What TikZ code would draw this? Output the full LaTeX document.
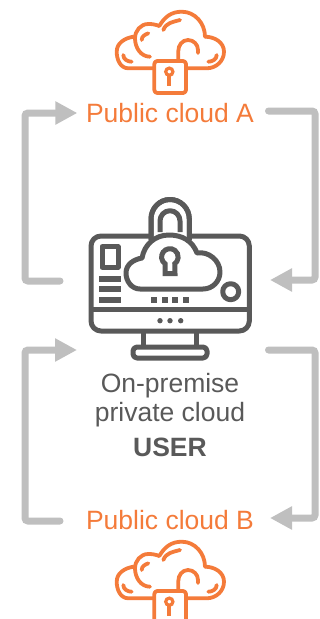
\documentclass[tikz,border=0pt]{standalone}
\usepackage{fontspec}
\setmainfont{Liberation Sans}
\usetikzlibrary{arrows.meta}
\definecolor{orangeC}{HTML}{F47B3A}
\definecolor{grayC}{HTML}{595959}
\definecolor{flowC}{HTML}{BFBFBF}
\tikzset{
  flow/.style={draw=flowC,line width=7pt,line cap=round,rounded corners=3pt,-{Triangle[length=22pt,width=22pt]}},
  orangelabel/.style={text=orangeC,font=\fontsize{26.5}{30}\selectfont,inner xsep=8.5pt,inner ysep=0pt},
  graylabel/.style={text=grayC,font=\fontsize{26.5}{30}\selectfont,inner sep=0pt},
  iconline/.style={draw=orangeC,line width=3.8pt,line cap=round,line join=round},
  pcline/.style={draw=grayC,line width=5pt,line join=round},
  cloudicon/.pic={
    \path[iconline] (152.7,68.3) -- (128.3,68.3) to[out=180,in=-90] (116.7,51.7) to[out=90,in=190] (133.3,36.7);
    \path[iconline] (150,56.7) to[out=180,in=-90] (135,38.3) to[out=90,in=180] (148.3,24) to[out=0,in=160] (159.3,26);
    \path[iconline] (159.3,26) to[out=-20+80,in=180] (181.7,11.7) to[out=0,in=90] (205,36.7);
    \path[iconline] (205,36.7) to[out=0,in=90] (224,51.7) to[out=-90,in=0] (206.7,68.3) -- (188.3,68.3);
    \path[iconline] (178.3,60) -- (178.3,51) to[out=90,in=180] (188,40) to[out=0,in=90] (198,50) -- (198,53);
    \path[iconline,rounded corners=3pt] (154.3,61) rectangle (186,93);
    \path[iconline] (123.3,55) to[out=-90,in=180] (131.7,61.7);
    \path[iconline] (141.7,40) to[out=90,in=200] (148.3,33.3);
    \path[iconline] (163.3,30) to[out=70,in=195] (180,20);
    \path[iconline] (208.3,61.7) to[out=0,in=-90] (216.7,55);
    \path[draw=orangeC,line width=3.2pt] (169.3,71.7) circle (3.6pt);
    \path[iconline,line cap=butt] (169.3,75) -- (169.3,86);
  }
}
\begin{document}
\begin{tikzpicture}[x=1pt,y=-1pt]
\useasboundingbox (0,0) rectangle (320,619);
% clouds
\pic (cloudA) at (0,0) {cloudicon};
\begin{scope}
  \clip (0,0) rectangle (320,619);
  \pic (cloudB) at (0,530) {cloudicon};
\end{scope}
% labels
\node[orangelabel] (pa) at (170,113) {Public cloud A};
\node[orangelabel] (pb) at (170,520) {Public cloud B};
\node[graylabel] (prem) at (170,386) {On-premise};
\node[graylabel] (priv) at (170,414.5) {private cloud};
\node[graylabel,font=\fontsize{26.5}{30}\selectfont\bfseries] (user) at (170,447) {USER};
% monitor
\path[pcline,rounded corners=10pt] (91,236) rectangle (249.3,331);
\path[pcline] (91,309) -- (249.3,309);
\path[pcline] (143.3,331) -- (143.3,347);
\path[pcline] (196.7,331) -- (196.7,347);
\path[pcline,rounded corners=4pt] (133,347) rectangle (207,358);
\path[pcline,fill=white] (151,240) -- (151,219) to[out=90,in=180] (170,199.5) to[out=0,in=90] (189.3,219) -- (189.3,240);
\path[draw=white,line width=7pt] (155,236) -- (186,236);
\path[pcline] (151,240) -- (151,219) to[out=90,in=180] (170,199.5) to[out=0,in=90] (189.3,219) -- (189.3,240);
\path[pcline] (160,232) -- (160,221) to[out=90,in=180] (170,210.7) to[out=0,in=90] (180,221) -- (180,232);
\path[pcline,fill=white] (140,289) to[out=180,in=-90] (126,273) to[out=90,in=190] (142,258)
  to[out=80,in=180] (169,235) to[out=0,in=110] (197,253)
  to[out=10,in=90] (220,272) to[out=-90,in=0] (203,289) -- cycle;
\path[pcline,line join=miter] (165,273.5) -- (165,263.7) arc[start angle=234,end angle=-54,radius=8.3pt] -- (175,273.5) -- cycle;
% monitor details
\path[pcline] (102,246.7) rectangle (118,267.3);
\path[fill=grayC] (99.3,276) rectangle (120.7,281.7);
\path[fill=grayC] (99.3,286) rectangle (120.7,291.7);
\path[fill=grayC] (99.3,297) rectangle (120.7,302.7);
\path[fill=grayC] (151,297) rectangle (157,303);
\path[fill=grayC] (161.7,297) rectangle (167.7,303);
\path[fill=grayC] (172.3,297) rectangle (178.3,303);
\path[fill=grayC] (183,297) rectangle (189,303);
\path[pcline] (230.7,291.7) circle (8pt);
\path[fill=grayC] (160,320.7) circle (2.7pt);
\path[fill=grayC] (170,320.7) circle (2.7pt);
\path[fill=grayC] (180.7,320.7) circle (2.7pt);
% connectors
\coordinate (s1) at (60,281);
\coordinate (s2) at (268.5,111);
\coordinate (e2) at (270,280);
\coordinate (s3) at (60,521);
\coordinate (e3) at (77,350);
\coordinate (s4) at (268.5,350);
\coordinate (e4) at (270,518);
\draw[flow] (s1) -- (25,281) -- (25,113) -- (pa.west);
\draw[flow] (s2) -- (315,111) -- (315,280) -- (e2);
\draw[flow] (s3) -- (25,521) -- (25,350) -- (e3);
\draw[flow] (s4) -- (315,350) -- (315,518) -- (e4);
\end{tikzpicture}
\end{document}
